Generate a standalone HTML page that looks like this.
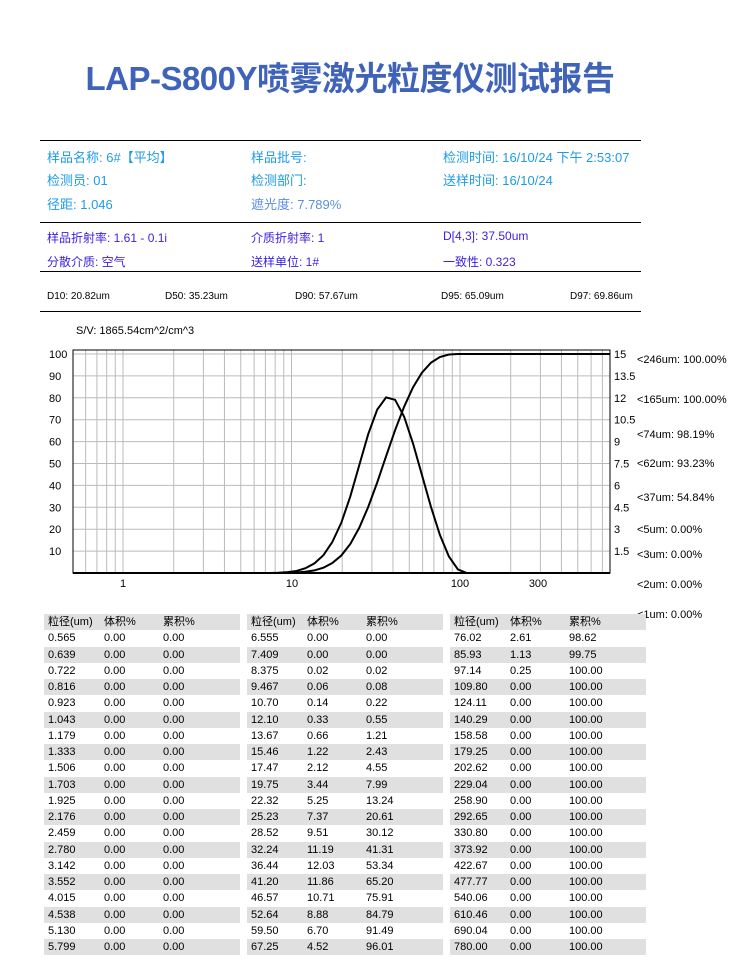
<!DOCTYPE html>
<html><head><meta charset="utf-8">
<style>
html,body{margin:0;padding:0}
body{width:738px;height:971px;background:#fff;position:relative;overflow:hidden;font-family:"Liberation Sans","Noto Sans CJK SC",sans-serif;}
.a{position:absolute;white-space:nowrap;}
.t{font-size:33px;font-weight:bold;color:#3f63b8;left:0;width:700px;text-align:center;top:52px;letter-spacing:-0.5px}
.hl{position:absolute;left:40px;width:601px;height:1px;background:#000}
.c1{color:#1e9be6;font-size:13px}
.c2{color:#3a1fe0;font-size:12px}
.d{font-size:10px;color:#000}
.s{font-size:11px;color:#000}
.col{position:absolute;top:614px;width:196px}
.col div{height:16.25px;line-height:16px;font-size:11px;color:#000;position:relative}
.col span{position:absolute;top:0}
.col span:nth-child(1){left:4px}.col span:nth-child(2){left:60px}.col span:nth-child(3){left:119px}
.col div:nth-child(odd){background:#e0e0e0}
</style></head><body>
<div class="a t">LAP-S800Y喷雾激光粒度仪测试报告</div>
<div class="hl" style="top:140px"></div>
<div class="hl" style="top:222px"></div>
<div class="hl" style="top:271px"></div>
<div class="hl" style="top:311px"></div>
<div class="a c1" style="left:47px;top:147px">样品名称: 6#【平均】</div>
<div class="a c1" style="left:251px;top:147px">样品批号:</div>
<div class="a c1" style="left:443px;top:147px">检测时间: 16/10/24 下午 2:53:07</div>
<div class="a c1" style="left:47px;top:170px">检测员: 01</div>
<div class="a c1" style="left:251px;top:170px">检测部门:</div>
<div class="a c1" style="left:443px;top:170px">送样时间: 16/10/24</div>
<div class="a c1" style="left:47px;top:194px">径距: 1.046</div>
<div class="a c1" style="left:251px;top:194px;color:#5a8ee0">遮光度: 7.789%</div>
<div class="a c2" style="left:47px;top:229px">样品折射率: 1.61 - 0.1i</div>
<div class="a c2" style="left:251px;top:229px">介质折射率: 1</div>
<div class="a c2" style="left:443px;top:229px">D[4,3]: 37.50um</div>
<div class="a c2" style="left:47px;top:253px">分散介质: 空气</div>
<div class="a c2" style="left:251px;top:253px">送样单位: 1#</div>
<div class="a c2" style="left:443px;top:253px">一致性: 0.323</div>
<div class="a d" style="left:47px;top:291px">D10: 20.82um</div>
<div class="a d" style="left:165px;top:291px">D50: 35.23um</div>
<div class="a d" style="left:295px;top:291px">D90: 57.67um</div>
<div class="a d" style="left:441px;top:291px">D95: 65.09um</div>
<div class="a d" style="left:570px;top:291px">D97: 69.86um</div>
<div class="a s" style="left:76px;top:325px">S/V: 1865.54cm^2/cm^3</div>
<svg id="ch" class="a" style="left:0;top:0" width="738" height="625"></svg>

<div class="col" style="left:44px">
<div><span>粒径(um)</span><span>体积%</span><span>累积%</span></div>
<div><span>0.565</span><span>0.00</span><span>0.00</span></div>
<div><span>0.639</span><span>0.00</span><span>0.00</span></div>
<div><span>0.722</span><span>0.00</span><span>0.00</span></div>
<div><span>0.816</span><span>0.00</span><span>0.00</span></div>
<div><span>0.923</span><span>0.00</span><span>0.00</span></div>
<div><span>1.043</span><span>0.00</span><span>0.00</span></div>
<div><span>1.179</span><span>0.00</span><span>0.00</span></div>
<div><span>1.333</span><span>0.00</span><span>0.00</span></div>
<div><span>1.506</span><span>0.00</span><span>0.00</span></div>
<div><span>1.703</span><span>0.00</span><span>0.00</span></div>
<div><span>1.925</span><span>0.00</span><span>0.00</span></div>
<div><span>2.176</span><span>0.00</span><span>0.00</span></div>
<div><span>2.459</span><span>0.00</span><span>0.00</span></div>
<div><span>2.780</span><span>0.00</span><span>0.00</span></div>
<div><span>3.142</span><span>0.00</span><span>0.00</span></div>
<div><span>3.552</span><span>0.00</span><span>0.00</span></div>
<div><span>4.015</span><span>0.00</span><span>0.00</span></div>
<div><span>4.538</span><span>0.00</span><span>0.00</span></div>
<div><span>5.130</span><span>0.00</span><span>0.00</span></div>
<div><span>5.799</span><span>0.00</span><span>0.00</span></div>
</div>
<div class="col" style="left:247px">
<div><span>粒径(um)</span><span>体积%</span><span>累积%</span></div>
<div><span>6.555</span><span>0.00</span><span>0.00</span></div>
<div><span>7.409</span><span>0.00</span><span>0.00</span></div>
<div><span>8.375</span><span>0.02</span><span>0.02</span></div>
<div><span>9.467</span><span>0.06</span><span>0.08</span></div>
<div><span>10.70</span><span>0.14</span><span>0.22</span></div>
<div><span>12.10</span><span>0.33</span><span>0.55</span></div>
<div><span>13.67</span><span>0.66</span><span>1.21</span></div>
<div><span>15.46</span><span>1.22</span><span>2.43</span></div>
<div><span>17.47</span><span>2.12</span><span>4.55</span></div>
<div><span>19.75</span><span>3.44</span><span>7.99</span></div>
<div><span>22.32</span><span>5.25</span><span>13.24</span></div>
<div><span>25.23</span><span>7.37</span><span>20.61</span></div>
<div><span>28.52</span><span>9.51</span><span>30.12</span></div>
<div><span>32.24</span><span>11.19</span><span>41.31</span></div>
<div><span>36.44</span><span>12.03</span><span>53.34</span></div>
<div><span>41.20</span><span>11.86</span><span>65.20</span></div>
<div><span>46.57</span><span>10.71</span><span>75.91</span></div>
<div><span>52.64</span><span>8.88</span><span>84.79</span></div>
<div><span>59.50</span><span>6.70</span><span>91.49</span></div>
<div><span>67.25</span><span>4.52</span><span>96.01</span></div>
</div>
<div class="col" style="left:450px">
<div><span>粒径(um)</span><span>体积%</span><span>累积%</span></div>
<div><span>76.02</span><span>2.61</span><span>98.62</span></div>
<div><span>85.93</span><span>1.13</span><span>99.75</span></div>
<div><span>97.14</span><span>0.25</span><span>100.00</span></div>
<div><span>109.80</span><span>0.00</span><span>100.00</span></div>
<div><span>124.11</span><span>0.00</span><span>100.00</span></div>
<div><span>140.29</span><span>0.00</span><span>100.00</span></div>
<div><span>158.58</span><span>0.00</span><span>100.00</span></div>
<div><span>179.25</span><span>0.00</span><span>100.00</span></div>
<div><span>202.62</span><span>0.00</span><span>100.00</span></div>
<div><span>229.04</span><span>0.00</span><span>100.00</span></div>
<div><span>258.90</span><span>0.00</span><span>100.00</span></div>
<div><span>292.65</span><span>0.00</span><span>100.00</span></div>
<div><span>330.80</span><span>0.00</span><span>100.00</span></div>
<div><span>373.92</span><span>0.00</span><span>100.00</span></div>
<div><span>422.67</span><span>0.00</span><span>100.00</span></div>
<div><span>477.77</span><span>0.00</span><span>100.00</span></div>
<div><span>540.06</span><span>0.00</span><span>100.00</span></div>
<div><span>610.46</span><span>0.00</span><span>100.00</span></div>
<div><span>690.04</span><span>0.00</span><span>100.00</span></div>
<div><span>780.00</span><span>0.00</span><span>100.00</span></div>
</div>

<script>
var ns="http://www.w3.org/2000/svg",svg=document.getElementById('ch');
function el(n,a){var e=document.createElementNS(ns,n);for(var k in a)e.setAttribute(k,a[k]);svg.appendChild(e);return e;}
function X(d){return 123+168.5*Math.log10(d);}
function Y(v){return 573-v*2.19;}
var L=73,R=610,T=350,B=573;
for(var p=-1;p<3;p++)for(var m=1;m<10;m++){var x=X(m*Math.pow(10,p));if(x>L&&x<R)el('line',{x1:x,x2:x,y1:T,y2:B,stroke:'#bbb','stroke-width':1});}
for(var v=10;v<=100;v+=10)el('line',{x1:L,x2:R,y1:Y(v),y2:Y(v),stroke:'#bbb','stroke-width':1});
el('rect',{x:L,y:T,width:R-L,height:B-T,fill:'none',stroke:'#000','stroke-width':1});
el('line',{x1:L,x2:R,y1:B,y2:B,stroke:'#000','stroke-width':2});
function tx(x,y,s,anc){var e=el('text',{x:x,y:y,'font-size':11,'font-family':'Liberation Sans, Noto Sans CJK SC, sans-serif','text-anchor':anc||'start'});e.textContent=s;}
for(var v=10;v<=100;v+=10)tx(49,Y(v)+4,v);
var rl=['1.5','3','4.5','6','7.5','9','10.5','12','13.5','15'];
for(var i=0;i<10;i++)tx(614,Y((i+1)*10)+4,rl[i]);
tx(123,587,'1','middle');tx(292,587,'10','middle');tx(460,587,'100','middle');tx(538,587,'300','middle');
var ann=[['<246um: 100.00%',363],['<165um: 100.00%',403],['<74um: 98.19%',438],['<62um: 93.23%',467],['<37um: 54.84%',501],['<5um: 0.00%',533],['<3um: 0.00%',558],['<2um: 0.00%',588],['<1um: 0.00%',618]];
ann.forEach(function(a){tx(637,a[1],a[0]);});
var D=[[6.555,0,0],[7.409,0,0],[8.375,0.02,0.02],[9.467,0.06,0.08],[10.70,0.14,0.22],[12.10,0.33,0.55],[13.67,0.66,1.21],[15.46,1.22,2.43],[17.47,2.12,4.55],[19.75,3.44,7.99],[22.32,5.25,13.24],[25.23,7.37,20.61],[28.52,9.51,30.12],[32.24,11.19,41.31],[36.44,12.03,53.34],[41.20,11.86,65.20],[46.57,10.71,75.91],[52.64,8.88,84.79],[59.50,6.70,91.49],[67.25,4.52,96.01],[76.02,2.61,98.62],[85.93,1.13,99.75],[97.14,0.25,100],[109.80,0,100]];
var p1='',p2='';
D.forEach(function(d){var x=X(d[0]);p1+=(p1?'L':'M')+x.toFixed(1)+' '+Y(d[1]*100/15).toFixed(1);p2+=(p2?'L':'M')+x.toFixed(1)+' '+Y(d[2]).toFixed(1);});
p2+='L'+R+' '+Y(100);
el('path',{d:p1,fill:'none',stroke:'#000','stroke-width':2});
el('path',{d:p2,fill:'none',stroke:'#000','stroke-width':2});
</script>
</body></html>
